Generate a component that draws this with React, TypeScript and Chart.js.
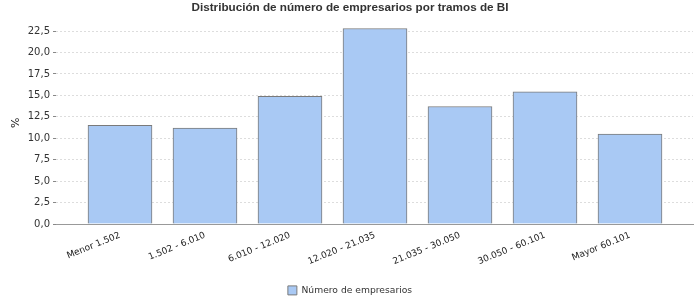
import React, { useEffect, useRef } from "react";
import { Chart, registerables } from "chart.js";

Chart.register(...registerables);

const categories = [
  "Menor 1.502",
  "1.502 - 6.010",
  "6.010 - 12.020",
  "12.020 - 21.035",
  "21.035 - 30.050",
  "30.050 - 60.101",
  "Mayor 60.101",
];
const values = [11.5, 11.2, 14.9, 22.8, 13.7, 15.4, 10.5];
const yTickValues = [0, 2.5, 5, 7.5, 10, 12.5, 15, 17.5, 20, 22.5];
const seriesName = "Número de empresarios";
const chartTitle = "Distribución de número de empresarios por tramos de BI";
const yAxisTitle = "%";

const PAD_BOTTOM = -5;

export default function App() {
  const ref = useRef<HTMLCanvasElement | null>(null);

  useEffect(() => {
    document.body.style.margin = "0";
    const canvas = ref.current;
    if (!canvas) return;
    const chart = new Chart(canvas, {
      type: "bar",
      data: {
        datasets: [
          {
            label: seriesName,
            data: values.map((v, i) => ({ x: i, y: v })),
            backgroundColor: "#a9c9f4",
            borderColor: "#7a7a7a",
            borderWidth: 1,
            barThickness: 64,
          },
        ],
      },
      options: {
        responsive: false,
        animation: false,
        layout: { padding: { left: 7, right: 7, top: 0, bottom: PAD_BOTTOM } },
        plugins: {
          title: {
            display: true,
            text: chartTitle,
            color: "#333333",
            font: { family: "Liberation Sans", size: 11.7, weight: "bold" },
            padding: { top: 0.6, bottom: 7 },
          },
          legend: {
            display: true,
            position: "bottom",
            labels: {
              boxWidth: 9,
              boxHeight: 9,
              color: "#333333",
              font: { family: "DejaVu Sans", size: 9.2 },
              padding: 6,
            },
          },
          tooltip: { enabled: false },
        },
        scales: {
          x: {
            type: "linear",
            offset: false,
            min: -0.7529,
            max: 6.7412,
            grid: { display: false },
            border: { display: true, color: "#999999", width: 1 },
            afterBuildTicks: (scale: any) => {
              scale.ticks = categories.map((_, i) => ({ value: i }));
            },
            afterFit: (scale: any) => {
              const lh = scale.chart.legend ? scale.chart.legend.height : 0;
              scale.height = 300 - PAD_BOTTOM - 224 - lh;
            },
            ticks: {
              autoSkip: false,
              minRotation: 22,
              maxRotation: 22,
              padding: -2,
              color: "#222222",
              font: { family: "DejaVu Sans", size: 9 },
              callback: (v: any) => categories[Math.round(Number(v))] ?? "",
            },
          },
          y: {
            min: 0,
            max: 23.6,
            afterBuildTicks: (scale: any) => {
              scale.ticks = yTickValues.map((v) => ({ value: v }));
            },
            afterFit: (scale: any) => {
              scale.width = 49;
            },
            grid: {
              color: "#dddddd",
              tickColor: "#888888",
              tickLength: 3,
              tickBorderDash: [],
            },
            border: { display: false, dash: [2, 2] },
            title: {
              display: true,
              text: yAxisTitle,
              color: "#222222",
              font: { family: "DejaVu Sans", size: 11 },
              padding: { top: 3, bottom: 0 },
            },
            ticks: {
              padding: 3,
              color: "#333333",
              font: { family: "DejaVu Sans", size: 10 },
              callback: (v: any) => Number(v).toFixed(1).replace(".", ","),
            },
          },
        },
      },
    } as any);
    return () => chart.destroy();
  }, []);

  return (
    <div style={{ width: 700, height: 300 }}>
      <canvas ref={ref} width={700} height={300} />
    </div>
  );
}
